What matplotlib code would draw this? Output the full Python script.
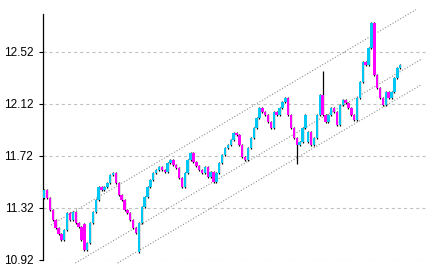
import numpy as np
import matplotlib
matplotlib.use("Agg")
import matplotlib.pyplot as plt

# closing prices, one per candle
closes = [
    11.458, 11.397, 11.305, 11.228, 11.166, 11.12, 11.074, 11.151, 11.282, 11.228,
    11.289, 11.205, 11.174, 11.074, 10.997, 11.051, 11.205, 11.289, 11.382, 11.482,
    11.458, 11.48, 11.512, 11.574, 11.589, 11.512, 11.42, 11.382, 11.305, 11.282,
    11.228, 11.166, 11.128, 11.205, 11.328, 11.405, 11.482, 11.535, 11.589, 11.612,
    11.635, 11.612, 11.597, 11.666, 11.689, 11.651, 11.628, 11.551, 11.482, 11.589,
    11.689, 11.743, 11.674, 11.64, 11.612, 11.589, 11.635, 11.558, 11.597, 11.52,
    11.589, 11.666, 11.728, 11.782, 11.805,
    11.843, 11.897, 11.882, 11.805, 11.712, 11.689, 11.782, 11.858, 11.935, 12.012,
    12.089, 12.058, 12.035, 11.982, 11.935, 12.058, 12.035, 12.089, 12.135, 12.166,
    12.035, 11.935, 11.858, 11.805, 11.828, 11.935, 12.035, 11.905, 11.805, 11.858,
    12.035, 12.189, 12.035, 11.982, 12.035, 12.089, 12.058, 11.958, 12.112, 12.151,
    12.128, 12.089, 12.035, 11.997, 12.166, 12.289, 12.443, 12.42, 12.551, 12.74,
    12.343, 12.243, 12.166, 12.112, 12.212, 12.166, 12.212, 12.32, 12.397, 12.42,
]
first_open = 11.40
opens = [first_open] + closes[:-1]

# candles whose open gaps away from the previous close (index -> open)
gap_opens = {14: 11.20, 33: 10.98, 92: 11.83}
# long shadows that stand out (index -> price)
long_highs = {97: 12.37}
long_lows = {88: 11.66}

# price channel (start/end candle index and price)
upper_x = [2.4, 129.5]
upper_line = [11.189, 12.843]
middle_x = [10.9, 131.6]
middle_line = [10.897, 12.466]
lower_x = [25.6, 131.3]
lower_line = [10.897, 12.266]

yticks = [10.92, 11.32, 11.72, 12.12, 12.52]

UP = "#00c8f5"
DOWN = "#ff00ff"

plt.rcParams["lines.scale_dashes"] = False
fig = plt.figure(figsize=(4.33, 2.74), dpi=100)
ax = fig.add_axes([43 / 433, 14 / 274, 385 / 433, 246 / 274])

x = np.arange(len(closes))
o = np.array(opens)
for i, v in gap_opens.items():
    o[i] = v
c = np.array(closes)
colors = [UP if cc >= oo else DOWN for oo, cc in zip(o, c)]

wick = 0.008
hi = np.maximum(o, c) + wick
lo = np.minimum(o, c) - wick
for i, v in long_highs.items():
    hi[i] = v
for i, v in long_lows.items():
    lo[i] = v
ax.vlines(x, lo, hi, color="black", lw=0.9, zorder=2)
ax.bar(x, c - o, bottom=o, width=0.85, color=colors, linewidth=0, zorder=3)

dot = dict(color="#808080", lw=0.8, linestyle=(0, (0.7, 1.4)), clip_on=False, zorder=1)
ax.plot(upper_x, upper_line, **dot)
ax.plot(middle_x, middle_line, **dot)
ax.plot(lower_x, lower_line, **dot)

for t in yticks:
    ax.axhline(t, color="#c0c0c0", lw=0.8, linestyle=(0, (2.2, 2.2)), zorder=0)

ax.set_ylim(10.92, 12.81)
ax.set_xlim(-0.4, 133.7)
ax.set_yticks(yticks)
ax.set_yticklabels([f"{t:.2f}" for t in yticks], fontfamily="Liberation Sans", fontsize=8.5)
ax.tick_params(axis="y", length=3, width=0.8, pad=4, color="black")
ax.set_xticks([])
for s in ["top", "right", "bottom"]:
    ax.spines[s].set_visible(False)
ax.spines["left"].set_linewidth(0.9)

fig.savefig("out.png", dpi=100)
